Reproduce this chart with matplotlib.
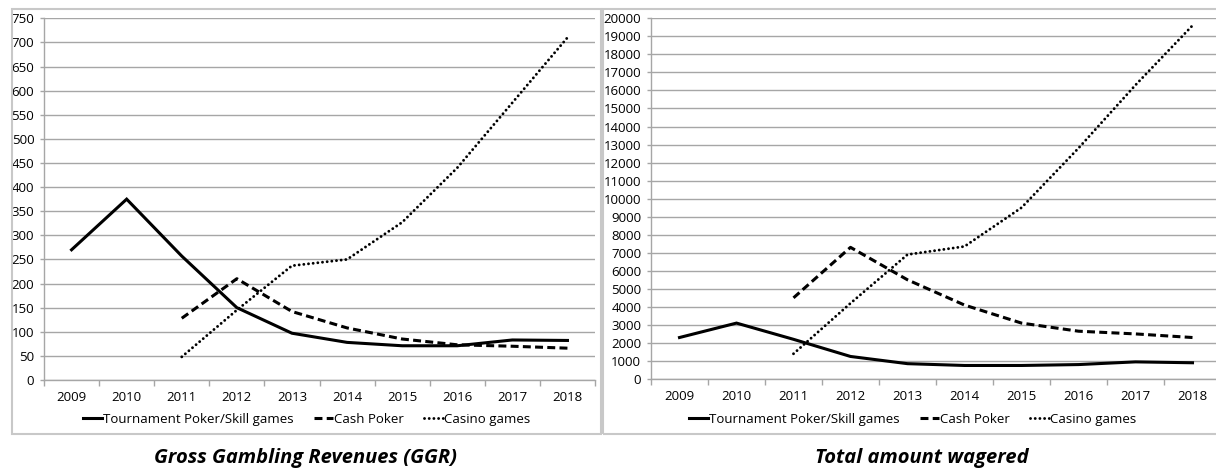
import matplotlib
matplotlib.use("Agg")
import matplotlib.pyplot as plt
from matplotlib.patches import Rectangle
from matplotlib.lines import Line2D

plt.rcParams["font.family"] = ["Open Sans", "DejaVu Sans"]

YEARS = ["2009", "2010", "2011", "2012", "2013", "2014", "2015", "2016", "2017", "2018"]
SERIES = ["Tournament Poker/Skill games", "Cash Poker", "Casino games"]

# Gross Gambling Revenues (GGR); None = no data that year
GGR_TOURNAMENT = [270, 375, 257, 150, 97, 78, 71, 71, 83, 82]
GGR_CASH = [None, None, 128, 210, 142, 108, 85, 73, 70, 66]
GGR_CASINO = [None, None, 48, 145, 237, 250, 327, 440, 575, 710]

# Total amount wagered
WAG_TOURNAMENT = [2300, 3100, 2200, 1250, 850, 750, 750, 800, 950, 900]
WAG_CASH = [None, None, 4500, 7300, 5500, 4100, 3100, 2650, 2500, 2300]
WAG_CASINO = [None, None, 1400, 4200, 6900, 7350, 9500, 12800, 16300, 19600]

GGR_TICKS = list(range(0, 751, 50))
WAG_TICKS = list(range(0, 20001, 1000))

TITLES = ["Gross Gambling Revenues (GGR)", "Total amount wagered"]

W, H = 1216, 473
GRID = "#a6a6a6"
FRAME = "#c8c8c8"

STYLES = [
    dict(linestyle="-", linewidth=2.2),
    dict(linestyle=(0, (2.6, 1.4)), linewidth=2.2),
    dict(linestyle=(0, (0.01, 1.6)), linewidth=2.1, dash_capstyle="round"),
]


def _px(x0, y0, x1, y1):
    # pixel box (top-left origin) -> figure fraction rect
    return [x0 / W, 1 - y1 / H, (x1 - x0) / W, (y1 - y0) / H]


def _draw_panel(fig, box, frame_box, series_values, yticks, title, title_x):
    fx0, fy0, fx1, fy1 = frame_box
    fig.patches.append(Rectangle((fx0 / W, 1 - fy1 / H), (fx1 - fx0) / W, (fy1 - fy0) / H,
                                 transform=fig.transFigure, fill=False,
                                 edgecolor=FRAME, linewidth=1.5))

    ax = fig.add_axes(_px(*box))
    x = list(range(len(YEARS)))
    handles = []
    for vals, style in zip(series_values, STYLES):
        xs = [i for i, v in zip(x, vals) if v is not None]
        ys = [v for v in vals if v is not None]
        ax.plot(xs, ys, color="black", solid_joinstyle="miter", **style)
        handles.append(Line2D([], [], color="black", **style))

    ax.set_xlim(-0.5, len(YEARS) - 0.5)
    ax.set_ylim(yticks[0], yticks[-1])
    ax.set_xticks(x)
    ax.set_xticklabels(YEARS)
    ax.set_xticks([i - 0.5 for i in range(len(YEARS) + 1)], minor=True)
    ax.set_yticks(yticks)
    ax.set_yticklabels([str(t) for t in yticks])
    ax.tick_params(axis="x", which="major", length=0, pad=8, labelsize=9.5)
    ax.tick_params(axis="x", which="minor", length=4, color=GRID, width=1)
    ax.tick_params(axis="y", length=3, color=GRID, width=1, pad=4, labelsize=9.5)
    ax.yaxis.grid(True, color=GRID, linewidth=1)
    ax.set_axisbelow(True)
    for side in ("top", "right"):
        ax.spines[side].set_visible(False)
    for side in ("left", "bottom"):
        ax.spines[side].set_color(GRID)
        ax.spines[side].set_linewidth(1)

    cx = (fx0 + min(fx1, W + 6)) / 2 / W
    fig.legend(handles, SERIES, loc="center", bbox_to_anchor=(cx, 1 - 419 / H),
               ncol=3, frameon=False, fontsize=9.5, handlelength=1.5,
               handletextpad=0.05, columnspacing=1.5, borderpad=0)

    fig.text(title_x / W, 1 - 458 / H, title, ha="center", va="center",
             fontsize=14.5, fontweight="bold", fontstyle="italic")
    return ax


fig = plt.figure(figsize=(W / 100, H / 100), dpi=100)

_draw_panel(fig, (44, 18.3, 595, 380), (12, 9, 601, 434),
            [GGR_TOURNAMENT, GGR_CASH, GGR_CASINO], GGR_TICKS, TITLES[0], 306)
_draw_panel(fig, (651, 18.3, 1221, 379), (603, 9, 1230, 434),
            [WAG_TOURNAMENT, WAG_CASH, WAG_CASINO], WAG_TICKS, TITLES[1], 922)

fig.savefig("out.png", dpi=100)
